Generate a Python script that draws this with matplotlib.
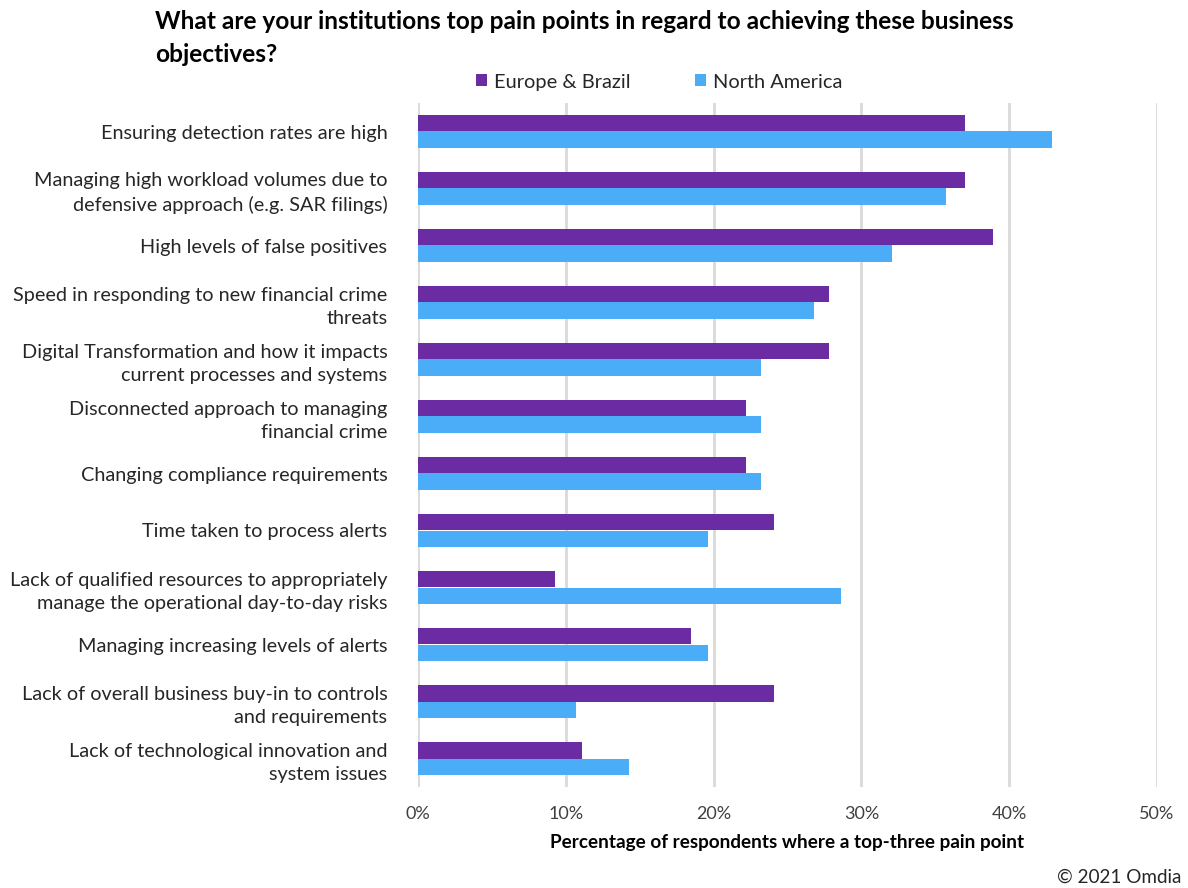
import numpy as np
import matplotlib.pyplot as plt
from matplotlib.ticker import PercentFormatter

plt.rcParams['font.family'] = ['Lato', 'DejaVu Sans']

# Survey categories, top to bottom
pain_points = [
    'Ensuring detection rates are high',
    'Managing high workload volumes due to\ndefensive approach (e.g. SAR filings)',
    'High levels of false positives',
    'Speed in responding to new financial crime\nthreats',
    'Digital Transformation and how it impacts\ncurrent processes and systems',
    'Disconnected approach to managing\nfinancial crime',
    'Changing compliance requirements',
    'Time taken to process alerts',
    'Lack of qualified resources to appropriately\nmanage the operational day-to-day risks',
    'Managing increasing levels of alerts',
    'Lack of overall business buy-in to controls\nand requirements',
    'Lack of technological innovation and\nsystem issues',
]

# share of respondents (%)
europe_brazil = [37.0, 37.0, 38.9, 27.8, 27.8, 22.2, 22.2, 24.1, 9.3, 18.5, 24.1, 11.1]
north_america = [42.9, 35.7, 32.1, 26.8, 23.2, 23.2, 23.2, 19.6, 28.6, 19.6, 10.7, 14.3]

x_ticks = [0, 10, 20, 30, 40, 50]

purple = '#6B2BA3'
blue = '#4BADF7'

fig = plt.figure(figsize=(11.88, 8.88), dpi=100)
ax = fig.add_axes([418/1188, 1 - 787/888, (1157 - 418)/1188, (787 - 103)/888])

y = np.arange(len(pain_points))
h = 0.285
ax.barh(y - h/2, europe_brazil, height=h, color=purple, label='Europe & Brazil', zorder=3)
ax.barh(y + h/2, north_america, height=h, color=blue, label='North America', zorder=3)

ax.set_ylim(len(pain_points) - 0.5, -0.5)
ax.set_xlim(0, 50)
ax.set_xticks(x_ticks)
ax.xaxis.set_major_formatter(PercentFormatter(decimals=0))
ax.set_yticks(y)
ax.set_yticklabels(pain_points, fontsize=14.3, color='#262626', linespacing=1.4)
ax.tick_params(axis='x', labelsize=13, colors='#404040', length=0, pad=14)
ax.tick_params(axis='y', length=0, pad=22)
ax.grid(axis='x', color='#D9D9D9', linewidth=2, zorder=0)
for s in ax.spines.values():
    s.set_visible(False)

ax.set_xlabel('Percentage of respondents where a top-three pain point',
              fontsize=13.6, fontweight='bold', color='black', labelpad=8)

fig.text(155/1188, 1 - 38/888,
         'What are your institutions top pain points in regard to achieving these business\nobjectives?',
         fontsize=17.6, fontweight='bold', ha='left', va='center', linespacing=1.5)

ax.legend(loc='center', bbox_to_anchor=(659/1188, 1 - 82/888), bbox_transform=fig.transFigure,
          ncol=2, frameon=False, fontsize=14.4, handlelength=0.55, handleheight=0.55,
          handletextpad=0.35, columnspacing=3.2, labelcolor='#262626')

fig.text(1181/1188, 1 - 877/888, '\u00a9 2021 Omdia', fontsize=13.6, ha='right', va='center', color='#262626')

plt.savefig('out.png', dpi=100)
